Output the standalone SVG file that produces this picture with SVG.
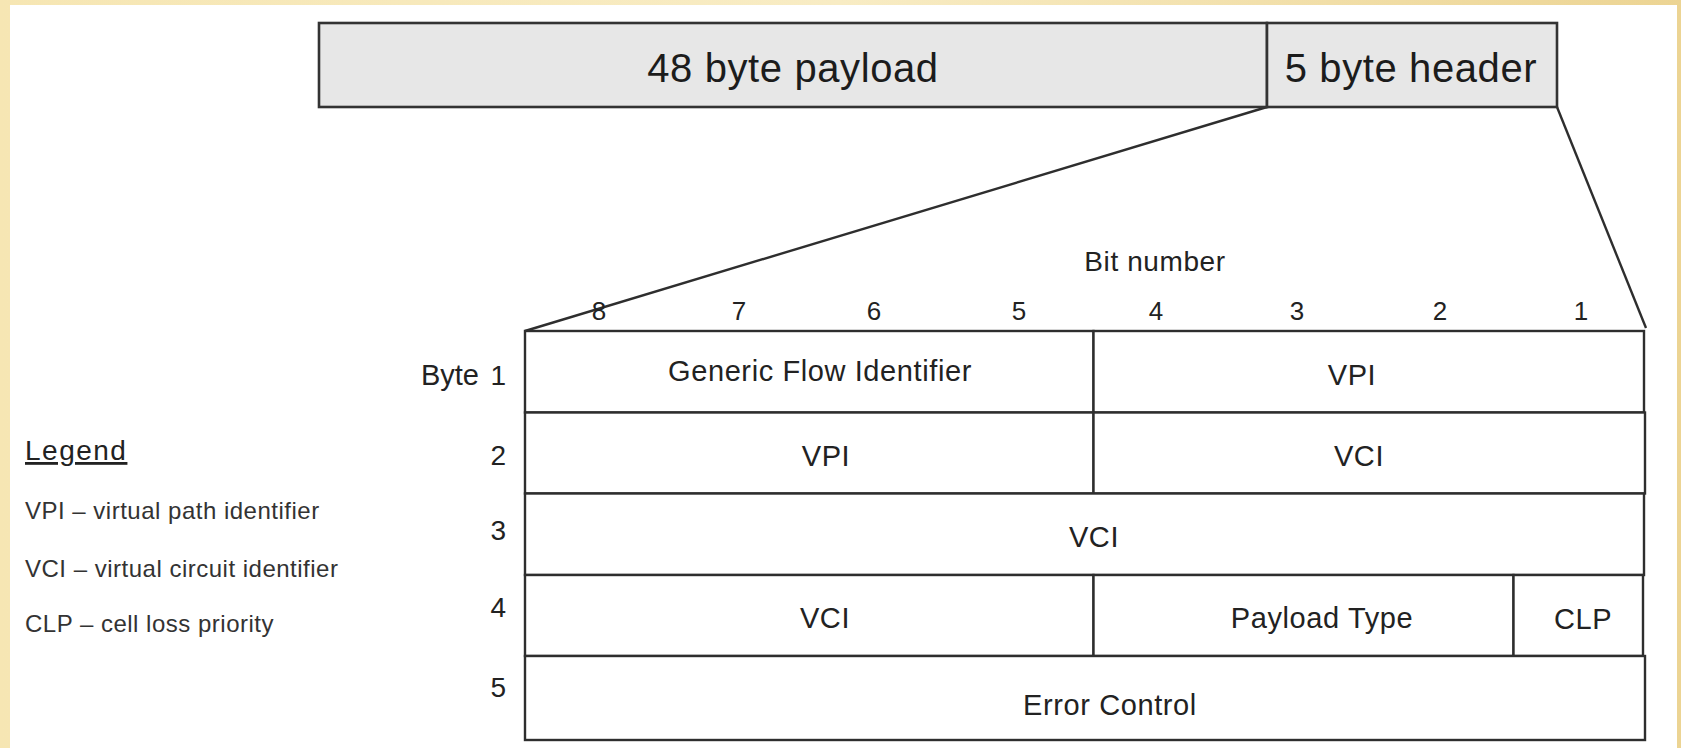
<svg xmlns="http://www.w3.org/2000/svg" width="1681" height="748" viewBox="0 0 1681 748">
<style>
  .box { fill: #e7e7e7; stroke: #333; stroke-width: 2.6; }
  .cell { fill: #ffffff; stroke: #2e2e2e; stroke-width: 2.4; }
  .conn { stroke: #2e2e2e; stroke-width: 2.4; fill: none; }
  text { font-family: "Liberation Sans", Arial, Helvetica, sans-serif; fill: #222; }
  .big { font-size: 40px; letter-spacing: 0.6px; text-anchor: middle; fill: #1c1c1c; }
  .lbl { font-size: 29px; letter-spacing: 0.6px; text-anchor: middle; }
  .bit { font-size: 26px; text-anchor: middle; }
  .row { font-size: 28px; text-anchor: end; }
  .leg { font-size: 24px; letter-spacing: 0.5px; fill: #333; }
</style>
<defs>
  <linearGradient id="bg" x1="0" y1="0" x2="1" y2="0">
    <stop offset="0" stop-color="#f6e6b3"/>
    <stop offset="0.5" stop-color="#f8ecc4"/>
    <stop offset="1" stop-color="#ecd493"/>
  </linearGradient>
</defs>
<rect x="0" y="0" width="1681" height="748" fill="url(#bg)"/>
<rect x="10" y="5" width="1667" height="743" fill="#ffffff"/>

<g id="connectors">
  <line class="conn" x1="1267" y1="107" x2="525" y2="331"/>
  <line class="conn" x1="1557" y1="107" x2="1646" y2="328"/>
</g>

<g id="payload">
  <rect class="box" x="319" y="23" width="948" height="84"/>
  <text class="big" x="793" y="82">48 byte payload</text>
</g>
<g id="header">
  <rect class="box" x="1267" y="23" width="290" height="84"/>
  <text class="big" x="1411" y="82">5 byte header</text>
</g>

<g id="bit-number">
  <text class="lbl" x="1155" y="271" style="font-size:28px">Bit number</text>
  <text class="bit" x="599" y="320">8</text>
  <text class="bit" x="739" y="320">7</text>
  <text class="bit" x="874" y="320">6</text>
  <text class="bit" x="1019" y="320">5</text>
  <text class="bit" x="1156" y="320">4</text>
  <text class="bit" x="1297" y="320">3</text>
  <text class="bit" x="1440" y="320">2</text>
  <text class="bit" x="1581" y="320">1</text>
</g>

<g id="byte-labels">
  <text class="row" x="479" y="385" style="font-size:29px">Byte</text>
  <text class="row" x="506" y="385">1</text>
  <text class="row" x="506" y="465">2</text>
  <text class="row" x="506" y="540">3</text>
  <text class="row" x="506" y="617">4</text>
  <text class="row" x="506" y="697">5</text>
</g>

<g id="byte1">
  <g id="gfi"><rect class="cell" x="525" y="331" width="568.5" height="81.5"/>
    <text class="lbl" x="820" y="381">Generic Flow Identifier</text></g>
  <g id="vpi1"><rect class="cell" x="1093.5" y="331" width="550.5" height="81.5"/>
    <text class="lbl" x="1352" y="385">VPI</text></g>
</g>
<g id="byte2">
  <g id="vpi2"><rect class="cell" x="525" y="412.5" width="568.5" height="81"/>
    <text class="lbl" x="826" y="466">VPI</text></g>
  <g id="vci2"><rect class="cell" x="1093.5" y="412.5" width="551.5" height="81"/>
    <text class="lbl" x="1359" y="466">VCI</text></g>
</g>
<g id="byte3">
  <g id="vci3"><rect class="cell" x="525" y="493.5" width="1119" height="81.5"/>
    <text class="lbl" x="1094" y="547">VCI</text></g>
</g>
<g id="byte4">
  <g id="vci4"><rect class="cell" x="525" y="575" width="568.5" height="81"/>
    <text class="lbl" x="825" y="628">VCI</text></g>
  <g id="payload-type"><rect class="cell" x="1093.5" y="575" width="420" height="81"/>
    <text class="lbl" x="1322" y="628">Payload Type</text></g>
  <g id="clp"><rect class="cell" x="1513.5" y="575" width="129.5" height="81"/>
    <text class="lbl" x="1583" y="629">CLP</text></g>
</g>
<g id="byte5">
  <g id="error-control"><rect class="cell" x="525" y="656" width="1120" height="84"/>
    <text class="lbl" x="1110" y="715">Error Control</text></g>
</g>

<g id="legend">
  <text x="25" y="460" style="font-size:28px; letter-spacing:1.5px; text-decoration:underline" fill="#222">Legend</text>
  <text class="leg" x="25" y="519">VPI – virtual path identifier</text>
  <text class="leg" x="25" y="577">VCI – virtual circuit identifier</text>
  <text class="leg" x="25" y="632">CLP – cell loss priority</text>
</g>
</svg>
